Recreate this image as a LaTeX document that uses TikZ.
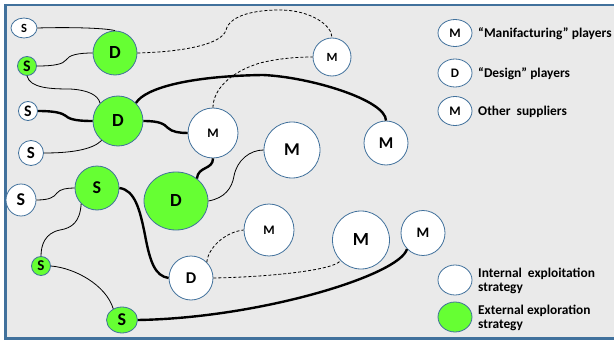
\documentclass[tikz,border=0pt]{standalone}
\usepackage{fontspec}
\setmainfont{Carlito}
\usetikzlibrary{shapes.geometric}
\definecolor{lime}{HTML}{66FF33}
\definecolor{rim}{HTML}{41719C}
\definecolor{panel}{HTML}{EAEAEA}
\newcommand\sz[1]{\fontsize{#1}{#1}\selectfont\bfseries}

\begin{document}
\begin{tikzpicture}[x=1pt,y=-1pt]
\tikzstyle{every node}=[font=\sz{13}]
\tikzstyle{player}=[ellipse,draw=rim,line width=0.8pt,fill=white,inner sep=0pt]
\tikzstyle{explore}=[player,fill=lime]
\tikzstyle{weak}=[line width=0.8pt]
\tikzstyle{strong}=[line width=2.4pt]
\tikzstyle{loose}=[line width=0.8pt,dash pattern=on 3pt off 2pt]
\tikzstyle{note}=[anchor=west,inner sep=0pt,align=left,font=\sz{13.4}]
\useasboundingbox (0,0) rectangle (614,340);
\clip (0,0) rectangle (614,340);
\draw[rim,line width=2.5pt,fill=panel](5.3,5)rectangle(625,338.5);

% suppliers and designers
\node[player,minimum width=26pt,minimum height=20pt,font=\sz{12.5}](s1)at(24,28){S};
\node[explore,minimum size=44pt,font=\sz{18.5}](d1)at(115,53){D};
\node[explore,minimum size=19pt,font=\sz{16}](s2)at(27,66){S};
\node[player,minimum size=19pt,font=\sz{16}](s3)at(28,111){S};
\node[player,minimum size=25pt,font=\sz{17}](s4)at(31,153){S};
\node[explore,minimum size=50pt,font=\sz{18.5}](d2)at(118,121){D};
\node[player,minimum size=30pt,minimum height=32pt,font=\sz{18}](s5)at(21,200){S};
\node[explore,minimum size=44pt,font=\sz{18}](s6)at(97,188){S};
\node[explore,minimum width=64pt,minimum height=58pt,font=\sz{18.5}](d3)at(176,201){D};
\node[explore,minimum size=19pt,font=\sz{15}](s7)at(41,266){S};
\node[player,minimum size=44pt,font=\sz{16.5}](d4)at(191,278){D};
\node[explore,minimum width=31pt,minimum height=26pt,font=\sz{18}](s8)at(122,320){S};

% manufacturers
\node[player,minimum size=50pt](mm)at(213,133){M};
\node[player,minimum size=38pt,font=\sz{12.5}](mt)at(332,57){M};
\node[player,minimum size=56pt,font=\sz{18}](mb)at(292,150){M};
\node[player,minimum size=44pt,font=\sz{16.5}](mr)at(386,143){M};
\node[player,minimum width=50pt,minimum height=52pt](ms)at(269,230){M};
\node[player,minimum width=57pt,minimum height=58pt,font=\sz{18.5}](ml)at(361,240){M};
\node[player,minimum width=44pt,minimum height=45pt,font=\sz{14.5}](mr2)at(423,233){M};

% links
\draw[weak](s1.east)..controls(70,27)and(105,28)..(d1.north);
\draw[weak](s2.east)..controls(55,66)and(63,64)..(66,60)..controls(69,55)and(78,53)..(d1.west);
\draw[weak](s2.south)..controls(30,88)and(50,89)..(70,89)..controls(88,90)and(98,95)..(d2.135);
\draw[strong](s3.east)..controls(55,111)and(62,113)..(66,116)..controls(70,120)and(80,121)..(d2.west);
\draw[weak](s4.east)..controls(70,153)and(92,150)..(d2.230);
\draw[strong](d2.45)..controls(145,88)and(190,76)..(263,75)..controls(310,77)and(386,100)..(mr.north);
\draw[strong](d2.east)..controls(160,121)and(164,124)..(168,128)..controls(172,132)and(180,133)..(mm.west);
\draw[loose](d1.east)..controls(180,52)and(222,45)..(226,30)..controls(230,15)and(255,10)..(280,10)..controls(310,10)and(332,25)..(mt.north);
\draw[loose](mm.north)..controls(213,90)and(230,72)..(260,63)..controls(280,58)and(300,57)..(mt.west);
\draw[strong](mm.south)..controls(213,170)and(198,166)..(d3.47);
\draw[weak](d3.east)..controls(225,198)and(232,188)..(234,176)..controls(237,160)and(250,150)..(mb.west);
\draw[weak](s5.east)..controls(50,200)and(54,197)..(57,193)..controls(60,189)and(67,188)..(s6.west);
\draw[weak](s6.225)..controls(80,222)and(72,228)..(60,230)..controls(45,233)and(41,245)..(s7.north);
\draw[strong](s6.east)..controls(135,190)and(140,210)..(145,235)..controls(150,262)and(155,276)..(d4.west);
\draw[weak](s7.east)..controls(75,268)and(106,285)..(s8.128);
\draw[strong](s8.east)..controls(260,318)and(400,275)..(mr2.225);
\draw[loose](d4.45)..controls(208,248)and(225,232)..(ms.west);
\draw[loose](d4.east)..controls(270,277)and(335,270)..(ml.225);

% legend
\node[player,minimum width=34pt,minimum height=27pt](lm)at(455,33){M};
\node[player,minimum width=34pt,minimum height=28pt](ld)at(455,73){D};
\node[player,minimum width=34pt,minimum height=29pt](lo)at(455,111){M};
\node[player,minimum width=34pt,minimum height=30pt](lw)at(455,280){};
\node[explore,minimum width=34pt,minimum height=30pt](lg)at(455,317){};
\node[note](tm)at(478,34){“Manifacturing” players};
\node[note](td)at(478,74){“Design” players};
\node[note](to)at(478,112){Other~ suppliers};
\node[note](tw)at(478,281){Internal~ exploitation\\strategy};
\node[note](tg)at(478,318){External exploration\\strategy};

\end{tikzpicture}
\end{document}
